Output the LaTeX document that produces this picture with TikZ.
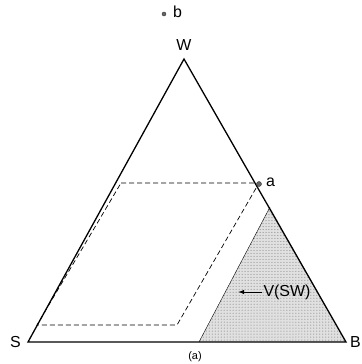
\documentclass[tikz,border=0pt]{standalone}
\usepackage{fontspec}
\setmainfont{Liberation Sans}
\usetikzlibrary{patterns}
\tikzset{
  lbl/.style={font=\fontsize{16}{18}\selectfont, inner sep=1pt},
  pnt/.style={circle, fill=black!60, draw=black!80, inner sep=0pt, minimum size=5bp}
}
\begin{document}
\begin{tikzpicture}[x=1bp,y=-1bp]
\useasboundingbox (0,0) rectangle (362,364);
\coordinate (S) at (28,342);
\coordinate (B) at (346,342);
\coordinate (W) at (184,59);
\coordinate (t) at (270,207);
\coordinate (u) at (199,342);
% shaded part
\fill[black!12] (u) -- (t) -- (B) -- cycle;
\fill[pattern=dots, pattern color=black!55] (u) -- (t) -- (B) -- cycle;
\draw[thin] (u) -- (t);
% dashed region
\draw[dash pattern=on 5bp off 3bp, line width=0.7bp] (121,183) -- (259,183) -- (177,325) -- (37,325) -- cycle;
\draw[line width=1.3bp, line join=miter] (S) -- (W) -- (B) -- cycle;
\node[pnt] (a) at (259,184) {};
\node[pnt, minimum size=4bp] (b) at (164,14) {};
\node[lbl, anchor=west] at (265,182) {a};
\node[lbl, anchor=west] at (172,12) {b};
\node[lbl, anchor=south] (Wl) at (184,52) {W};
\node[lbl, anchor=east] (Sl) at (22,342) {S};
\node[lbl, anchor=west] (Bl) at (349,342) {B};
\node[lbl] (v) at (287,292) {V(SW)};
\draw[-latex, line width=1bp] (v.west) -- ++(-24,0);
\node[font=\fontsize{11}{13}\selectfont] (cap) at (195,357) {(a)};
\end{tikzpicture}
\end{document}
